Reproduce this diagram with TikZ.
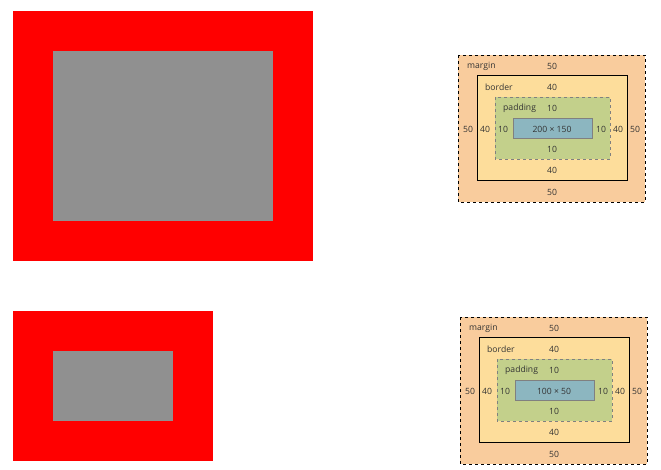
\documentclass[tikz,border=0pt]{standalone}
\usepackage{fontspec}
\setmainfont{Open Sans}
\definecolor{marginc}{HTML}{F9CC9D}
\definecolor{borderc}{HTML}{FDDD9B}
\definecolor{paddingc}{HTML}{C3D08B}
\definecolor{contentc}{HTML}{8CB6C0}
\definecolor{boxgrey}{HTML}{909090}
\definecolor{labelc}{HTML}{333333}
\begin{document}
\begin{tikzpicture}[x=1pt, y=-1pt, font=\fontsize{8.6}{10}\selectfont, line join=miter]
		\tikzset{lbl/.style={text=labelc, inner sep=0pt},
			tag/.style={lbl, anchor=west}}
		\useasboundingbox (0,0) rectangle (661,470);
		
		% 1. Hộp đỏ bên trái
		\fill[red] (13,11) rectangle (313,261);
		\fill[boxgrey] (53,51) rectangle (273,221);
		\fill[red] (13,311) rectangle (213,461);
		\fill[boxgrey] (53,351) rectangle (173,421);
		
		% 2. Mô hình hộp bên phải
		\foreach \i/\ox/\oy/\sz in {1/458/55/{200 × 150}, 2/460/317/{100 × 50}} {
			\begin{scope}[shift={(\ox,\oy)}]
				\draw[fill=marginc, dashed, line width=0.6pt] (0,0) rectangle (187,147);
				\draw[fill=borderc, line width=0.8pt] (19,20) rectangle (169,125);
				\draw[fill=paddingc, dashed, draw=gray, line width=0.6pt] (37,42) rectangle (152,104);
				\draw[fill=contentc, draw=gray, line width=0.6pt] (55,63) rectangle (134,83);
				
				% nhãn
				\node[tag] (m\i) at (9,11) {margin};
				\node[tag] (b\i) at (27,32) {border};
				\node[tag] (p\i) at (45,53) {padding};
				\node[lbl] (c\i) at (94,74) {\sz};
				\foreach \y/\t/\n in {11/50/mt, 32/40/bt, 53/10/pt, 94/10/pb, 115/40/bb, 137/50/mb}
					\node[lbl] (\n\i) at (94,\y) {\t};
				\foreach \x/\t/\n in {10/50/ml, 27/40/bl, 45/10/pl, 143/10/pr, 160/40/br, 177/50/mr}
					\node[lbl] (\n\i) at (\x,74) {\t};
			\end{scope}
		}
	\end{tikzpicture}
\end{document}
